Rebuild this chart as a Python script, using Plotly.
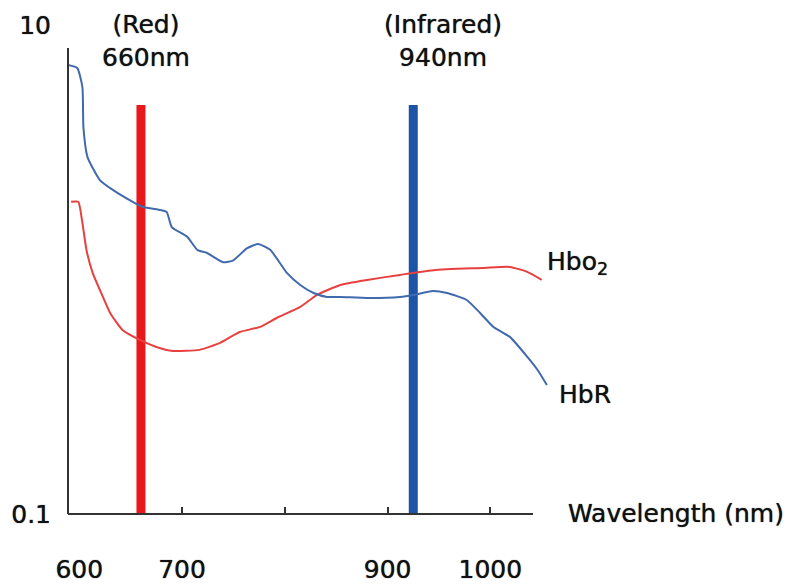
import plotly.graph_objects as go

# ---- data ----
wavelength_hbr = [589, 598, 603, 604, 608, 620, 633, 652, 662, 679, 685, 690, 705, 715, 724,
                  740, 750, 763, 774, 786, 802, 815, 828, 841, 854, 880, 912, 925, 944, 958,
                  977, 990, 1003, 1019, 1036, 1046, 1055]
hbr_values = [6.85, 6.66, 5.57, 3.82, 2.88, 2.32, 2.11, 1.89, 1.80, 1.75, 1.72, 1.49, 1.36, 1.20, 1.17,
              1.07, 1.09, 1.22, 1.27, 1.20, 0.968, 0.864, 0.801, 0.772, 0.772, 0.765, 0.772, 0.786, 0.817, 0.801,
              0.750, 0.664, 0.582, 0.530, 0.439, 0.388, 0.337]

wavelength_hbo2 = [592, 599, 603, 607, 613, 623, 630, 642, 659, 675, 691, 717, 737, 756, 776,
                   792, 815, 831, 854, 880, 912, 938, 961, 993, 1019, 1036, 1050]
hbo2_values = [1.89, 1.89, 1.55, 1.20, 0.968, 0.772, 0.664, 0.566, 0.515, 0.482, 0.464, 0.469, 0.501, 0.555, 0.582,
               0.633, 0.703, 0.786, 0.864, 0.906, 0.950, 0.986, 1.005, 1.014, 1.024, 0.977, 0.906]

source_wavelengths = [660, 925]
source_top = [4.7, 4.7]
source_names = ["(Red)<br>660nm", "(Infrared)<br>940nm"]

x_tick_values = [600, 700, 900, 1000]
x_tick_labels = ["600", "700", "900", "1000"]
x_minor_ticks = [700, 800, 900, 1000]
y_tick_values = [0.1, 10]
y_tick_labels = ["0.1", "10"]

# ---- layout geometry (window pixels; page body adds an 8px offset) ----
OFF = 8
W, H = 792 - OFF, 587 - OFF
L, R, T, B = 68, 552, 20, 514

def px(x):
    return (x - L) / (R - L)

def py(y):
    return (B - y) / (B - T)

FONT = "DejaVu Sans"
TXT = "#111111"
SHADOW = "0px 0px 1px #333333"
RED_BAR = "#e8181c"
BLUE_BAR = "#1d54a6"
RED_LINE = "#e8403f"
BLUE_LINE = "#4169ad"
AX = "#333333"

def fnt():
    return dict(family=FONT, size=25, color=TXT, shadow=SHADOW)

fig = go.Figure()

bar_colors = [RED_BAR, BLUE_BAR]
for w, top, c in zip(source_wavelengths, source_top, bar_colors):
    fig.add_trace(go.Scatter(x=[w, w], y=[0.1, top], mode="lines",
                             line=dict(color=c, width=9), hoverinfo="skip", showlegend=False))

fig.add_trace(go.Scatter(x=wavelength_hbo2, y=hbo2_values, mode="lines", name="Hbo2",
                         line=dict(color=RED_LINE, width=2, shape="spline", smoothing=0.5),
                         showlegend=False))
fig.add_trace(go.Scatter(x=wavelength_hbr, y=hbr_values, mode="lines", name="HbR",
                         line=dict(color=BLUE_LINE, width=2, shape="spline", smoothing=0.5),
                         showlegend=False))

fig.update_layout(
    template="none",
    width=W, height=H,
    margin=dict(l=L - OFF, r=792 - R, t=T - OFF, b=587 - B, pad=0, autoexpand=False),
    paper_bgcolor="white", plot_bgcolor="white",
    font=fnt(),
    xaxis=dict(range=[589, 1060], showgrid=False, zeroline=False, showline=False,
               automargin=False, ticklabeloverflow="allow",
               tickmode="array", tickvals=x_tick_values, ticktext=x_tick_labels,
               ticks="", ticklabelstandoff=38,
               tickfont=fnt(),
               minor=dict(tickmode="array", tickvals=x_minor_ticks, ticks="inside",
                          ticklen=7, tickwidth=1.5, tickcolor=AX, showgrid=False)),
    yaxis=dict(type="log", range=[-1, 1.02], showgrid=False, zeroline=False, showline=False,
               automargin=False, ticklabeloverflow="allow",
               tickmode="array", tickvals=y_tick_values, ticktext=y_tick_labels,
               ticks="", ticklabelstandoff=16,
               tickfont=fnt()),
    shapes=[
        dict(type="line", xref="paper", yref="paper", x0=px(68), x1=px(533), y0=0, y1=0,
             line=dict(color=AX, width=2)),
        dict(type="line", xref="paper", yref="paper", x0=px(68), x1=px(68), y0=0, y1=py(48),
             line=dict(color=AX, width=2)),
    ],
)

ann = [
    (source_names[0], 146, 41, "center"),
    (source_names[1], 443, 41, "center"),
    ("Hbo<sub>2</sub>", 545, 263, "left"),
    ("HbR", 557, 394, "left"),
    ("Wavelength (nm)", 566, 513, "left"),
]
for text, x, y, anchor in ann:
    fig.add_annotation(text=text, xref="paper", yref="paper", x=px(x), y=py(y),
                       xanchor=anchor, yanchor="middle", showarrow=False,
                       font=fnt())

fig.write_html("out.html")
